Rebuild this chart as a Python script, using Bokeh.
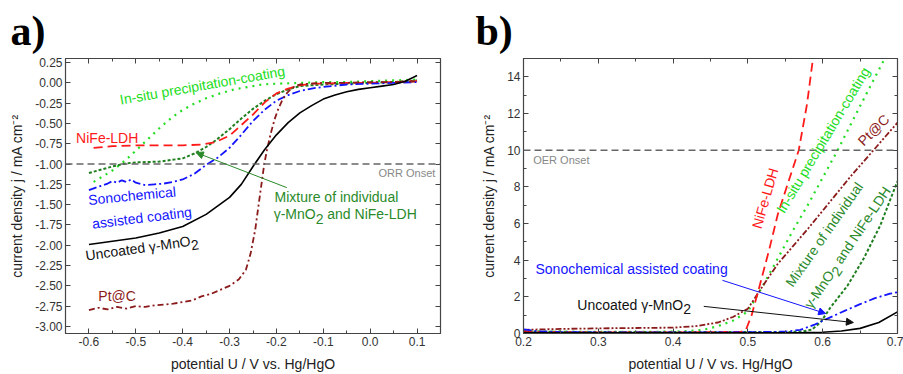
import math
from bokeh.plotting import figure
from bokeh.models import (Range1d, LinearAxis, Label, Arrow, NormalHead, Span,
                          FixedTicker, PrintfTickFormatter, CustomLabelingPolicy)
from bokeh.layouts import row
from bokeh.embed import file_html
from bokeh.resources import INLINE

# ---------------- Panel a) ORR data ----------------
orr_uncoated_x = [-0.60, -0.55, -0.50, -0.45, -0.40, -0.35, -0.30, -0.275, -0.25, -0.225, -0.20,
                  -0.175, -0.15, -0.125, -0.10, -0.075, -0.05, -0.025, 0.00, 0.025, 0.05, 0.075, 0.10]
orr_uncoated_y = [-1.99, -1.95, -1.91, -1.85, -1.77, -1.62, -1.41, -1.25, -1.03, -0.82, -0.64,
                  -0.49, -0.37, -0.28, -0.20, -0.15, -0.11, -0.08, -0.06, -0.04, -0.02, 0.02, 0.09]

orr_nife_x = [-0.59, -0.55, -0.50, -0.45, -0.40, -0.36, -0.33, -0.30, -0.275, -0.25, -0.225,
              -0.20, -0.175, -0.15, -0.125, -0.10, -0.05, 0.00, 0.05, 0.10]
orr_nife_y = [-0.80, -0.78, -0.77, -0.77, -0.77, -0.76, -0.73, -0.65, -0.52, -0.39, -0.24,
              -0.13, -0.07, -0.03, -0.01, -0.01, 0.00, 0.00, 0.01, 0.02]

orr_mix_x = [-0.60, -0.55, -0.52, -0.50, -0.45, -0.40, -0.375, -0.35, -0.33, -0.30, -0.275,
             -0.25, -0.225, -0.20, -0.175, -0.15, -0.10, -0.05, 0.00, 0.05, 0.10]
orr_mix_y = [-1.11, -1.03, -0.99, -0.98, -0.97, -0.93, -0.87, -0.79, -0.71, -0.57, -0.44,
             -0.32, -0.22, -0.14, -0.08, -0.04, -0.02, -0.01, 0.00, 0.01, 0.03]

orr_sono_x = [-0.60, -0.58, -0.56, -0.55, -0.54, -0.53, -0.52, -0.51, -0.50, -0.48, -0.46,
              -0.44, -0.42, -0.40, -0.375, -0.35, -0.325, -0.30, -0.275, -0.25, -0.225, -0.20,
              -0.175, -0.15, -0.125, -0.10, -0.05, 0.00, 0.05, 0.10]
orr_sono_y = [-1.32, -1.28, -1.24, -1.21, -1.23, -1.20, -1.22, -1.19, -1.23, -1.26, -1.25,
              -1.24, -1.22, -1.19, -1.12, -1.01, -0.92, -0.80, -0.64, -0.47, -0.33, -0.22,
              -0.15, -0.10, -0.07, -0.05, -0.02, -0.01, 0.00, 0.01]

orr_insitu_x = [-0.59, -0.57, -0.55, -0.53, -0.51, -0.49, -0.47, -0.45, -0.43, -0.41, -0.38,
                -0.35, -0.32, -0.29, -0.26, -0.23, -0.20, -0.15, -0.10, -0.05, 0.00, 0.05, 0.10]
orr_insitu_y = [-1.22, -1.15, -1.08, -0.99, -0.89, -0.78, -0.67, -0.56, -0.46, -0.37, -0.27,
                -0.19, -0.13, -0.08, -0.05, -0.02, -0.01, 0.00, 0.01, 0.01, 0.02, 0.03, 0.04]

orr_ptc_x = [-0.60, -0.58, -0.56, -0.54, -0.52, -0.50, -0.48, -0.46, -0.44, -0.42, -0.40,
             -0.38, -0.36, -0.34, -0.32, -0.30, -0.28, -0.265, -0.255, -0.245, -0.238, -0.232,
             -0.226, -0.22, -0.212, -0.204, -0.196, -0.188, -0.18, -0.17, -0.16, -0.15, -0.13,
             -0.10, -0.05, 0.00, 0.05, 0.10]
orr_ptc_y = [-2.80, -2.77, -2.79, -2.76, -2.78, -2.75, -2.76, -2.74, -2.73, -2.72, -2.70,
             -2.68, -2.63, -2.60, -2.55, -2.50, -2.42, -2.30, -2.10, -1.80, -1.50, -1.25,
             -1.00, -0.82, -0.62, -0.45, -0.32, -0.22, -0.14, -0.08, -0.04, -0.02, -0.01,
             0.00, 0.00, 0.01, 0.01, 0.02]

ORR_ONSET = -1.0
orr_xticks = [-0.6, -0.5, -0.4, -0.3, -0.2, -0.1, 0.0, 0.1]
orr_xminor = [-0.65, -0.55, -0.45, -0.35, -0.25, -0.15, -0.05, 0.05, 0.15]
orr_yticks = [-3.0, -2.75, -2.5, -2.25, -2.0, -1.75, -1.5, -1.25, -1.0, -0.75, -0.5, -0.25, 0.0, 0.25]

# ---------------- Panel b) OER data ----------------
oer_uncoated_x = [0.20, 0.25, 0.30, 0.35, 0.40, 0.45, 0.50, 0.55, 0.575, 0.60, 0.625, 0.65, 0.675, 0.70]
oer_uncoated_y = [0.05, 0.04, 0.04, 0.04, 0.04, 0.04, 0.04, 0.04, 0.05, 0.07, 0.14, 0.28, 0.60, 1.18]

oer_sono_x = [0.20, 0.22, 0.25, 0.30, 0.35, 0.40, 0.45, 0.50, 0.55, 0.57, 0.59, 0.61, 0.63,
              0.65, 0.67, 0.69, 0.70]
oer_sono_y = [0.22, 0.12, 0.08, 0.06, 0.06, 0.06, 0.06, 0.07, 0.10, 0.20, 0.50, 0.88, 1.25,
              1.60, 1.93, 2.17, 2.25]

oer_nife_x = [0.20, 0.25, 0.30, 0.35, 0.40, 0.45, 0.49, 0.497, 0.505, 0.515, 0.528, 0.54,
              0.552, 0.568, 0.579, 0.587, 0.59]
oer_nife_y = [0.10, 0.07, 0.06, 0.06, 0.06, 0.07, 0.09, 0.16, 1.00, 2.50, 4.50, 6.50,
              8.00, 10.00, 12.50, 15.00, 16.00]

oer_insitu_x = [0.20, 0.25, 0.30, 0.35, 0.40, 0.42, 0.44, 0.46, 0.48, 0.50, 0.52, 0.54, 0.56,
                0.58, 0.60, 0.62, 0.64, 0.66, 0.683]
oer_insitu_y = [0.12, 0.10, 0.09, 0.09, 0.10, 0.13, 0.20, 0.40, 0.70, 1.20, 2.60, 4.10, 5.60,
                7.00, 8.50, 10.00, 11.60, 13.20, 15.00]

oer_ptc_x = [0.20, 0.25, 0.30, 0.35, 0.40, 0.43, 0.46, 0.48, 0.50, 0.52, 0.54, 0.56, 0.58,
             0.60, 0.62, 0.64, 0.668, 0.685, 0.70]
oer_ptc_y = [0.20, 0.25, 0.28, 0.30, 0.32, 0.40, 0.60, 0.90, 1.35, 2.60, 3.80, 4.75, 5.70,
             6.70, 7.70, 8.70, 10.00, 10.80, 11.50]

oer_mix_x = [0.20, 0.30, 0.40, 0.50, 0.55, 0.57, 0.585, 0.597, 0.61, 0.633, 0.655, 0.677,
             0.697, 0.70]
oer_mix_y = [0.10, 0.08, 0.08, 0.08, 0.08, 0.10, 0.20, 0.60, 1.40, 2.60, 4.10, 5.90,
             8.00, 8.30]

OER_ONSET = 10.0
oer_xticks = [0.2, 0.3, 0.4, 0.5, 0.6, 0.7]
oer_xminor = [0.25, 0.35, 0.45, 0.55, 0.65]
oer_yticks = [0, 2, 4, 6, 8, 10, 12, 14]
oer_yminor = [1, 3, 5, 7, 9, 11, 13, 15]

# ---------------- styles ----------------
FONT = "Liberation Sans"
C_BLACK = "#000000"
C_RED = "#ff1a1a"
C_BLUE = "#1414ff"
C_LGREEN = "#22dd22"
C_DGREEN = "#1f7f1f"
C_DGREEN_T = "#2a8a2a"
C_DRED = "#8b1a1a"
C_AXIS = "#444444"

EM = {' ': .278, '-': .333, '.': .278, '/': .278, '@': 1.015, 'γ': .5,
      'A': .667, 'C': .722, 'D': .722, 'E': .667, 'F': .611, 'H': .722, 'I': .278,
      'L': .556, 'M': .833, 'N': .722, 'O': .778, 'P': .667, 'R': .722, 'S': .667,
      'U': .722, 'a': .556, 'b': .556, 'c': .5, 'd': .556, 'e': .556, 'f': .278,
      'g': .556, 'h': .556, 'i': .222, 'j': .222, 'l': .222, 'm': .833, 'n': .556,
      'o': .556, 'p': .556, 'r': .333, 's': .5, 't': .278, 'u': .556, 'v': .5,
      'x': .5, 'y': .5}


def text_w(s, size):
    return size * sum(EM.get(ch, .556) for ch in s)


def rich_label(p, x, y, parts, angle_deg, color, size=14, align="center", drop=4.5):
    th = math.radians(angle_deg)
    c, s = math.cos(th), math.sin(th)
    widths = [text_w(t, size) for t, _ in parts]
    pos = -sum(widths) / 2 if align == "center" else 0.0
    for (t, is_sub), w in zip(parts, widths):
        lead = 0.0
        txt = t
        if txt.startswith(" "):
            lead = text_w(" ", size)
            txt = txt.lstrip(" ")
        d = drop if is_sub else 0.0
        q = pos + lead
        p.add_layout(Label(x=x, y=y, text=txt, x_offset=q * c + d * s, y_offset=q * s - d * c,
                           angle=th, text_align="left", text_baseline="middle",
                           text_color=color, text_font=FONT, text_font_size=f"{size}px"))
        pos += w


def label(p, x, y, text, color, angle_deg=0.0, size=14, align="center"):
    p.add_layout(Label(x=x, y=y, text=text, angle=math.radians(angle_deg), text_align=align,
                       text_baseline="middle", text_color=color, text_font=FONT,
                       text_font_size=f"{size}px"))


def style_axis(ax):
    ax.major_tick_in = 5
    ax.major_tick_out = 0
    ax.minor_tick_in = 3
    ax.minor_tick_out = 0
    ax.axis_line_color = C_AXIS
    ax.major_tick_line_color = C_AXIS
    ax.minor_tick_line_color = C_AXIS
    ax.major_label_text_font = FONT
    ax.major_label_text_font_size = "12px"
    ax.major_label_text_color = "#333333"
    ax.major_label_standoff = 3
    ax.axis_label_text_font = FONT
    ax.axis_label_text_font_size = "14px"
    ax.axis_label_text_font_style = "normal"
    ax.axis_label_text_color = "#222222"
    ax.axis_label_standoff = 7


NO_LABELS = "for (const i of indices) { indices.unset(i) }\nreturn indices"


def make_fig(width, min_left, min_right, xr, yr, xt, xm, yt, ym, xfmt, yfmt, tag, tag_off):
    p = figure(width=width, height=374, x_range=Range1d(*xr), y_range=Range1d(*yr),
               output_backend="svg", toolbar_location=None,
               min_border_left=min_left, min_border_right=min_right,
               min_border_top=58, min_border_bottom=41)
    p.grid.visible = False
    p.outline_line_color = C_AXIS
    p.outline_line_width = 1.2
    p.title.text = tag
    p.title.text_font = "Liberation Serif"
    p.title.text_font_size = "42px"
    p.title.text_font_style = "bold"
    p.title.text_color = "#000000"
    p.title.align = "left"
    p.title.offset = tag_off
    p.title.standoff = 9
    xtick = FixedTicker(ticks=xt, minor_ticks=xm)
    ytick = FixedTicker(ticks=yt, minor_ticks=ym)
    p.xaxis.ticker = xtick
    p.yaxis.ticker = ytick
    p.xaxis.formatter = PrintfTickFormatter(format=xfmt)
    p.yaxis.formatter = PrintfTickFormatter(format=yfmt)
    p.xaxis.axis_label = "potential U / V vs. Hg/HgO"
    p.yaxis.axis_label = "current density j / mA cm\u207b\u00b2"
    style_axis(p.xaxis[0])
    style_axis(p.yaxis[0])
    top = LinearAxis(ticker=xtick)
    right = LinearAxis(ticker=ytick)
    for ax in (top, right):
        style_axis(ax)
        ax.major_label_text_font_size = "0px"
        ax.major_label_standoff = 0
        ax.major_label_policy = CustomLabelingPolicy(code=NO_LABELS)
    p.add_layout(top, "above")
    p.add_layout(right, "right")
    return p


# ---------------- Panel a ----------------
pa = make_fig(450, 65, 10, (-0.65, 0.15), (-3.087, 0.30), orr_xticks, orr_xminor,
              orr_yticks, [], "%.1f", "%.2f", "a)", -55)
pa.add_layout(Span(location=ORR_ONSET, dimension="width", line_color="#666666",
                   line_width=1.5, line_dash="7 4"))
pa.line(orr_insitu_x, orr_insitu_y, line_color=C_LGREEN, line_width=2.2, line_dash="2 5")
pa.line(orr_mix_x, orr_mix_y, line_color=C_DGREEN, line_width=2, line_dash="3 2")
pa.line(orr_nife_x, orr_nife_y, line_color=C_RED, line_width=1.8, line_dash="9 5")
pa.line(orr_sono_x, orr_sono_y, line_color=C_BLUE, line_width=1.8, line_dash="8 3 2 3")
pa.line(orr_ptc_x, orr_ptc_y, line_color=C_DRED, line_width=1.8, line_dash="6 3 2 3")
pa.line(orr_uncoated_x, orr_uncoated_y, line_color=C_BLACK, line_width=1.6)

label(pa, 0.139, -1.107, "ORR Onset", "#888888", size=11, align="right")
label(pa, -0.358, -0.03, "In-situ precipitation-coating", C_LGREEN, angle_deg=10)
label(pa, -0.561, -0.68, "NiFe-LDH", C_RED)
label(pa, -0.508, -1.39, "Sonochemical", C_BLUE, angle_deg=5.5)
label(pa, -0.487, -1.66, "assisted coating", C_BLUE, angle_deg=7)
rich_label(pa, -0.487, -2.03, [("Uncoated γ-MnO", False), ("2", True)], 8, "#111111")
label(pa, -0.54, -2.62, "Pt@C", C_DRED)
label(pa, -0.204, -1.40, "Mixture of individual", C_DGREEN_T, align="left")
rich_label(pa, -0.206, -1.62, [("γ-MnO", False), ("2", True), (" and NiFe-LDH", False)],
           0, C_DGREEN_T, align="left")
pa.add_layout(Arrow(end=NormalHead(size=7, fill_color=C_DGREEN_T, line_color=C_DGREEN_T),
                    x_start=-0.178, y_start=-1.29, x_end=-0.371, y_end=-0.86,
                    line_color=C_DGREEN_T, line_width=1))

# ---------------- Panel b ----------------
pb = make_fig(453, 73, 6, (0.2, 0.7), (0.0, 15.0), oer_xticks, oer_xminor,
              oer_yticks, oer_yminor, "%.1f", "%d", "b)", -48)
pb.add_layout(Span(location=OER_ONSET, dimension="width", line_color="#666666",
                   line_width=1.5, line_dash="7 4"))
pb.line(oer_insitu_x, oer_insitu_y, line_color=C_LGREEN, line_width=2.2, line_dash="2 5")
pb.line(oer_mix_x, oer_mix_y, line_color=C_DGREEN, line_width=2, line_dash="3 2")
pb.line(oer_ptc_x, oer_ptc_y, line_color=C_DRED, line_width=1.8, line_dash="6 2 2 2 2 2")
pb.line(oer_nife_x, oer_nife_y, line_color=C_RED, line_width=1.8, line_dash="9 5")
pb.line(oer_sono_x, oer_sono_y, line_color=C_BLUE, line_width=1.8, line_dash="8 3 2 3")
pb.line(oer_uncoated_x, oer_uncoated_y, line_color=C_BLACK, line_width=1.6)

label(pb, 0.213, 9.45, "OER Onset", "#888888", size=11, align="left")
label(pb, 0.523, 7.38, "NiFe-LDH", C_RED, angle_deg=74)
label(pb, 0.6005, 10.55, "In-situ precipitation-coating", C_LGREEN, angle_deg=59)
label(pb, 0.668, 11.1, "Pt@C", C_DRED, angle_deg=45)
label(pb, 0.602, 5.4, "Mixture of individual", C_DGREEN_T, angle_deg=55)
rich_label(pb, 0.633, 4.7, [("γ-MnO", False), ("2", True), (" and NiFe-LDH", False)],
           56, C_DGREEN_T)
label(pb, 0.216, 3.50, "Sonochemical assisted coating", C_BLUE, align="left")
rich_label(pb, 0.272, 1.58, [("Uncoated γ-MnO", False), ("2", True)], 0, "#111111",
           align="left")
pb.add_layout(Arrow(end=NormalHead(size=7, fill_color=C_BLUE, line_color=C_BLUE),
                    x_start=0.466, y_start=2.9, x_end=0.604, y_end=1.09,
                    line_color=C_BLUE, line_width=1))
pb.add_layout(Arrow(end=NormalHead(size=7, fill_color="#111111", line_color="#111111"),
                    x_start=0.441, y_start=1.48, x_end=0.641, y_end=0.60,
                    line_color="#111111", line_width=1))

layout = row(pa, pb)
open("out.html", "w").write(file_html(layout, INLINE))
